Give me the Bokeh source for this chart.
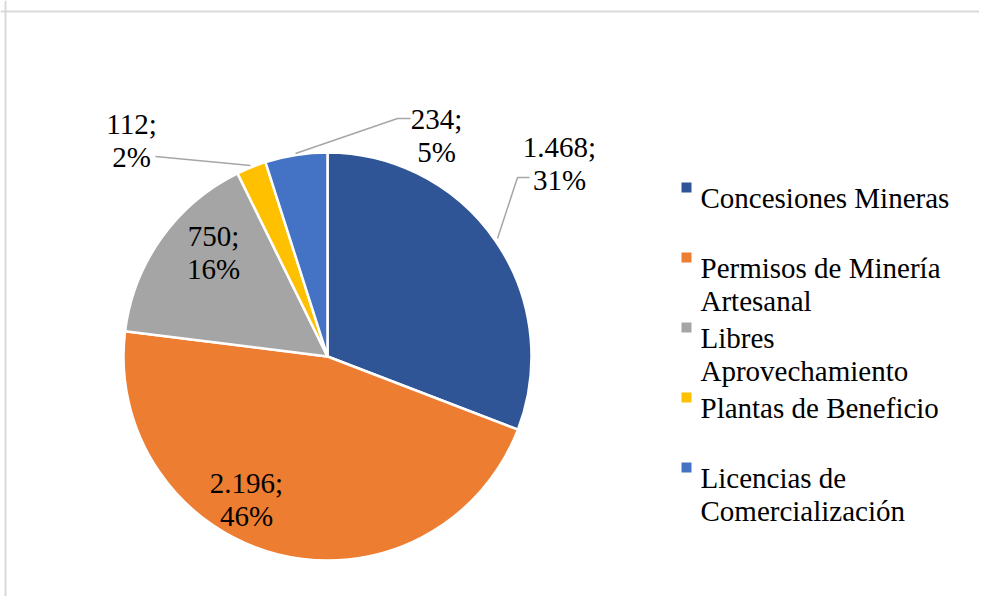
import numpy as np
from bokeh.plotting import figure
from bokeh.models import Range1d, Span, ColumnDataSource
from bokeh.embed import file_html
from bokeh.resources import INLINE
from bokeh.core.properties import value

# ---- data ----
categories = ["Concesiones Mineras", "Permisos de Minería Artesanal",
              "Libres Aprovechamiento", "Plantas de Beneficio",
              "Licencias de Comercialización"]
legend_lines = [["Concesiones Mineras"], ["Permisos de Minería", "Artesanal"],
                ["Libres", "Aprovechamiento"], ["Plantas de Beneficio"],
                ["Licencias de", "Comercialización"]]
values = [1468, 2196, 750, 112, 234]
colors = ["#2F5597", "#ED7D31", "#A5A5A5", "#FFC000", "#4472C4"]

# ---- layout (pixel coordinates of the picture) ----
W, H = 979, 596
cx, cy, R = 327, 356, 204
label_pos = [(559, 146), (246, 482), (213, 235), (131, 123), (436, 118)]  # center x, first baseline
label_gap = 33
leaders = {0: [(497, 238), (517, 177), (529, 177)],
           3: [(155, 156), (250, 165)],
           4: [(295, 153), (397, 118), (410, 118)]}
leg_x_sq, leg_x_txt, leg_y0, leg_step, leg_line = 686, 700, 197, 70, 33.5
FONT = value("Liberation Serif")
FS = "29px"

def Y(sy):
    return H - sy

p = figure(width=W, height=H, output_backend="svg", toolbar_location=None,
           x_range=Range1d(0, W), y_range=Range1d(0, H),
           min_border=0, outline_line_color=None)
p.axis.visible = False
p.grid.visible = False
p.background_fill_color = "white"
p.border_fill_color = "white"

# chart border (top and left edges visible in reference)
p.add_layout(Span(location=Y(11), dimension="width", line_color="#D9D9D9", line_width=2))
p.add_layout(Span(location=5, dimension="height", line_color="#D9D9D9", line_width=2))

# ---- pie ----
vals = np.array(values, dtype=float)
total = vals.sum()
frac = vals / total
cum = np.concatenate([[0], np.cumsum(frac)])
start = np.pi / 2 - cum[1:] * 2 * np.pi
end = np.pi / 2 - cum[:-1] * 2 * np.pi
src = ColumnDataSource(dict(start=start, end=end, color=colors, cat=categories))
p.wedge(x=cx, y=Y(cy), radius=R, start_angle="start", end_angle="end",
        fill_color="color", line_color="white", line_width=2.5, source=src)

# ---- leader lines ----
for i, pts in leaders.items():
    p.line([q[0] for q in pts], [Y(q[1]) for q in pts], line_color="#A6A6A6", line_width=1.5)

# ---- data labels ----
def fmt(v):
    return f"{int(v):,}".replace(",", ".")

lx, ly, lt = [], [], []
for i, v in enumerate(values):
    pct = round(v / total * 100)
    x0, b0 = label_pos[i]
    lx += [x0, x0]
    ly += [Y(b0), Y(b0 + label_gap)]
    lt += [fmt(v) + ";", f"{pct}%"]
p.text(x=lx, y=ly, text=lt, text_font=FONT, text_font_size=FS, text_color="black",
       text_align="center", text_baseline="alphabetic")

# ---- legend ----
sqx, sqy, tx, ty, tt = [], [], [], [], []
for i, lines in enumerate(legend_lines):
    b = leg_y0 + leg_step * i
    sqx.append(leg_x_sq)
    sqy.append(Y(b - 10))
    for j, s in enumerate(lines):
        tx.append(leg_x_txt)
        ty.append(Y(b + j * leg_line))
        tt.append(s)
p.scatter(x=sqx, y=sqy, marker="square", size=10, fill_color=colors, line_color=None)
p.text(x=tx, y=ty, text=tt, text_font=FONT, text_font_size=FS, text_color="black",
       text_align="left", text_baseline="alphabetic")

open("out.html", "w").write(file_html(p, INLINE))
